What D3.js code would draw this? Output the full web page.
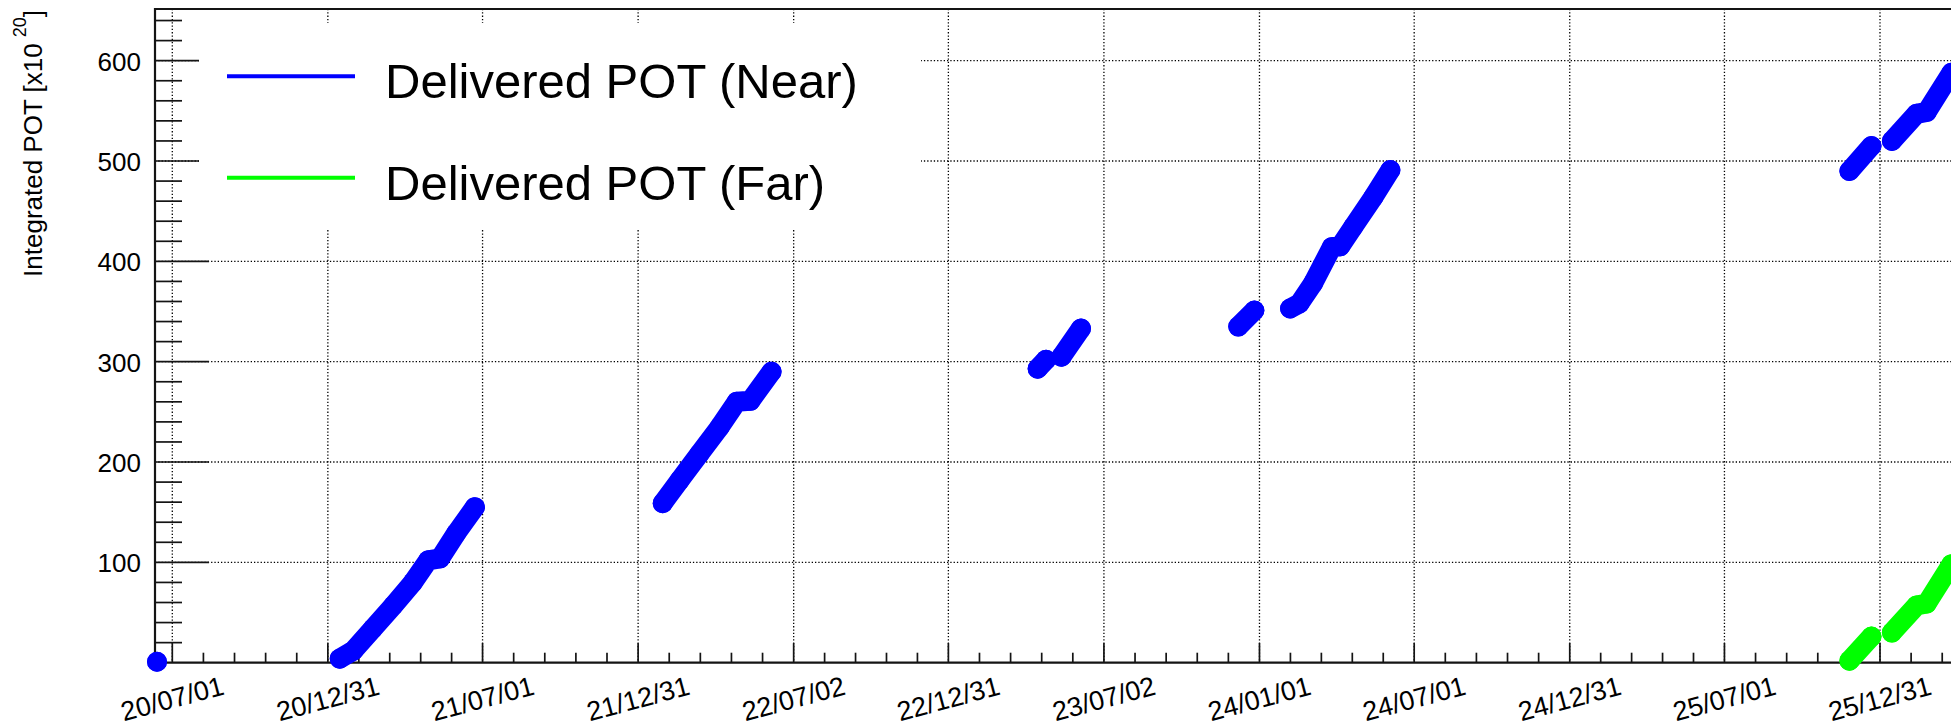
<!DOCTYPE html>
<html>
<head>
<meta charset="utf-8">
<script src="https://cdn.jsdelivr.net/npm/d3@7"></script>
<style>
  html, body { margin: 0; padding: 0; background: #fff; }
  svg { display: block; }
  text { font-family: "Liberation Sans", Arial, Helvetica, sans-serif; fill: #000; }
</style>
</head>
<body>
<svg id="chart" width="1951" height="727"></svg>
<script>
// Time-axis tick labels (yy/mm/dd)
const tickLabels = ["20/07/01", "20/12/31", "21/07/01", "21/12/31", "22/07/02", "22/12/31",
                    "23/07/02", "24/01/01", "24/07/01", "24/12/31", "25/07/01", "25/12/31"];

// Y-axis tick values
const yTickValues = [100, 200, 300, 400, 500, 600];

// Integrated POT, Near detector (null marks a gap between running periods)
const nearDates = ["2020-06-13", null,
  "2021-01-14", "2021-01-30", "2021-02-22", "2021-03-18", "2021-04-10", "2021-04-28", "2021-05-12", "2021-05-31", "2021-06-22", null,
  "2022-01-29", "2022-02-18", "2022-03-13", "2022-04-06", "2022-04-26", "2022-05-12", "2022-06-06", null,
  "2023-04-15", "2023-04-25", null,
  "2023-05-13", "2023-06-05", null,
  "2023-12-07", "2023-12-26", null,
  "2024-02-06", "2024-02-17", "2024-03-04", "2024-03-26", "2024-04-05", "2024-04-20", "2024-05-14", "2024-06-03", null,
  "2025-11-25", "2025-12-21", null,
  "2026-01-14", "2026-02-12", "2026-02-24", "2026-03-25"];
const nearPOT = [1, null,
  4, 12, 34, 57, 80, 102, 104, 129, 155, null,
  159, 182, 208, 235, 260, 261, 290, null,
  293, 302, null,
  305, 333, null,
  335, 351, null,
  353, 358, 378, 414, 415, 434, 464, 491, null,
  490, 515, null,
  520, 547, 549, 588];

// Integrated POT, Far detector
const farDates = ["2025-11-25", "2025-12-21", null,
  "2026-01-14", "2026-02-12", "2026-02-24", "2026-03-25"];
const farPOT = [2, 26, null,
  30, 57, 59, 98];

const svg = d3.select("#chart");
const W = 1951, H = 727;

// Frame geometry
const frameLeft = 155, frameTop = 9, frameBottom = 662.7, frameRight = 1990;

const parseTick = d3.utcParse("%y/%m/%d");
const parseDay = d3.utcParse("%Y-%m-%d");
const tickDates = tickLabels.map(parseTick);

const x = d3.scaleTime()
  .domain([tickDates[0], tickDates[tickDates.length - 1]])
  .range([172.3, 1880]);
const y = d3.scaleLinear().domain([0, 651.5]).range([frameBottom, frameTop]);

const ink = "#141414";

// ---- grid ----
const grid = svg.append("g").attr("stroke", "#000").attr("stroke-width", 1.3)
  .attr("stroke-dasharray", "1.3 2");
grid.selectAll("line.gx").data(tickDates).join("line")
  .attr("x1", d => x(d)).attr("x2", d => x(d))
  .attr("y1", frameTop).attr("y2", frameBottom);
grid.selectAll("line.gy").data(yTickValues).join("line")
  .attr("x1", frameLeft).attr("x2", frameRight)
  .attr("y1", d => y(d)).attr("y2", d => y(d));

// ---- x ticks (major + 4 minors per interval) ----
const stepMs = (tickDates[1] - tickDates[0]) / 5;
const minorX = [];
{
  let t = +tickDates[0] - stepMs;
  while (x(new Date(t)) > frameLeft) { minorX.push(new Date(t)); t -= stepMs; }
  for (let i = 0; i < tickDates.length; i++) {
    const a = +tickDates[i];
    const b = i < tickDates.length - 1 ? +tickDates[i + 1] : a + 5 * stepMs;
    const s = (b - a) / 5;
    for (let k = 1; k < 5; k++) minorX.push(new Date(a + k * s));
  }
}
const xt = svg.append("g").attr("stroke", ink).attr("stroke-width", 1.7);
xt.selectAll("line.maj").data(tickDates).join("line")
  .attr("x1", d => x(d)).attr("x2", d => x(d))
  .attr("y1", frameBottom).attr("y2", frameBottom - 19.5);
xt.selectAll("line.min").data(minorX.filter(d => x(d) > frameLeft && x(d) < W + 5)).join("line")
  .attr("x1", d => x(d)).attr("x2", d => x(d))
  .attr("y1", frameBottom).attr("y2", frameBottom - 10);

// ---- y ticks ----
const yMinor = d3.range(20, 651, 20).filter(v => v % 100 !== 0);
const yt = svg.append("g").attr("stroke", ink).attr("stroke-width", 1.7);
yt.selectAll("line.maj").data(yTickValues).join("line")
  .attr("x1", frameLeft).attr("x2", frameLeft + 54)
  .attr("y1", d => y(d)).attr("y2", d => y(d));
yt.selectAll("line.min").data(yMinor).join("line")
  .attr("x1", frameLeft).attr("x2", frameLeft + 27)
  .attr("y1", d => y(d)).attr("y2", d => y(d));

// ---- frame ----
svg.append("path")
  .attr("d", `M${frameRight},${frameTop} H${frameLeft} V${frameBottom} H${frameRight}`)
  .attr("fill", "none").attr("stroke", ink).attr("stroke-width", 2.2);

// ---- tick labels ----
svg.append("g").selectAll("text").data(tickDates).join("text")
  .attr("text-anchor", "middle")
  .attr("dominant-baseline", "central")
  .attr("font-size", 27)
  .attr("transform", d => `translate(${x(d)},699) rotate(-15)`)
  .text((d, i) => tickLabels[i]);

svg.append("g").selectAll("text").data(yTickValues).join("text")
  .attr("x", 141).attr("y", d => y(d) + 1)
  .attr("text-anchor", "end")
  .attr("dominant-baseline", "central")
  .attr("font-size", 26)
  .text(d => d);

// ---- y title ----
const title = svg.append("text")
  .attr("transform", "translate(42,10) rotate(-90)")
  .attr("text-anchor", "end")
  .attr("font-size", 26);
title.append("tspan").text("Integrated POT [x10");
title.append("tspan").attr("dx", 6).attr("dy", -16).attr("font-size", 18).text("20");
title.append("tspan").attr("dy", 16).text("]");

// ---- data ----
function toPoints(dates, vals) {
  return dates.map((d, i) => d === null ? null : { t: parseDay(d), v: vals[i] });
}
const line = d3.line().defined(d => d !== null).x(d => x(d.t)).y(d => y(d.v));

function drawSeries(points, color) {
  const g = svg.append("g");
  g.append("path").datum(points)
    .attr("d", line)
    .attr("fill", "none")
    .attr("stroke", color)
    .attr("stroke-width", 20)
    .attr("stroke-linecap", "round")
    .attr("stroke-linejoin", "round");
  g.selectAll("circle").data(points.filter(p => p !== null)).join("circle")
    .attr("cx", d => x(d.t)).attr("cy", d => y(d.v)).attr("r", 10)
    .attr("fill", color);
}
drawSeries(toPoints(nearDates, nearPOT), "#0000ff");
drawSeries(toPoints(farDates, farPOT), "#00ff00");

// ---- legend ----
const legend = svg.append("g");
legend.append("rect").attr("x", 199).attr("y", 23).attr("width", 722).attr("height", 207)
  .attr("fill", "#fff");
const entries = [
  { label: "Delivered POT (Near)", color: "#0000ff", ly: 76.3, ty: 98.3 },
  { label: "Delivered POT (Far)", color: "#00ff00", ly: 177.7, ty: 200 }
];
entries.forEach(e => {
  legend.append("line").attr("x1", 227).attr("x2", 355).attr("y1", e.ly).attr("y2", e.ly)
    .attr("stroke", e.color).attr("stroke-width", 4);
  legend.append("text").attr("x", 385).attr("y", e.ty).attr("font-size", 49).text(e.label);
});
</script>
</body>
</html>
